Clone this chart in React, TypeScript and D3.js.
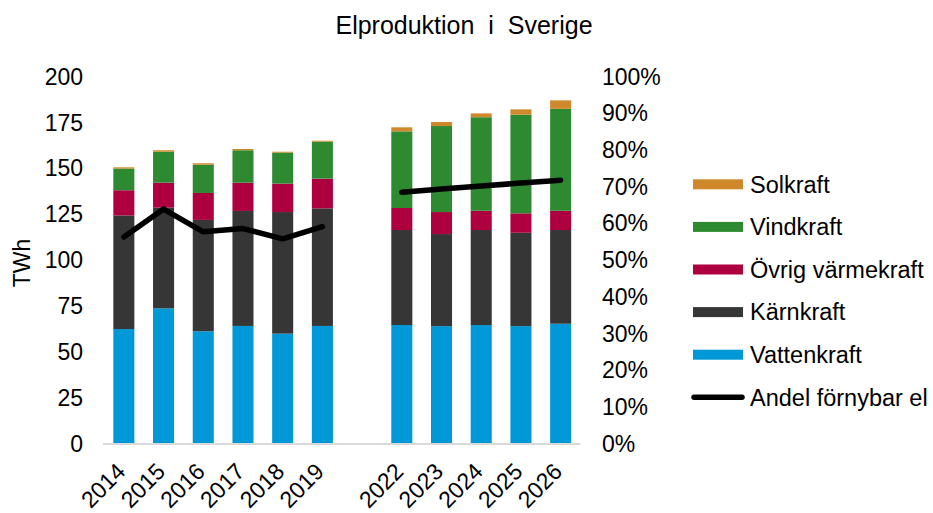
import React from "react";
import * as d3 from "d3";

const categories = ["2014", "2015", "2016", "2017", "2018", "2019", "", "2022", "2023", "2024", "2025", "2026"];
const vattenkraft = [62.4, 73.7, 61.2, 64.1, 59.9, 64.1, null, 64.6, 64.0, 64.6, 64.0, 65.3];
const karnkraft = [62.0, 54.9, 60.7, 62.7, 66.3, 64.1, null, 51.8, 50.2, 51.8, 50.9, 51.1];
const ovrigVarmekraft = [13.7, 13.6, 14.7, 15.4, 15.5, 16.2, null, 12.0, 12.0, 10.5, 10.6, 10.5];
const vindkraft = [11.8, 16.9, 15.4, 17.7, 16.9, 20.2, null, 41.8, 46.9, 51.0, 53.8, 55.6];
const solkraft = [0.7, 0.8, 0.8, 0.7, 0.5, 0.5, null, 2.2, 2.2, 2.1, 2.9, 4.6];
const andelFornybar = [0.563, 0.639, 0.577, 0.586, 0.558, 0.591, null, 0.685, 0.694, 0.702, 0.710, 0.718];

const leftTicks = [0, 25, 50, 75, 100, 125, 150, 175, 200];
const rightTicks = [0, 0.1, 0.2, 0.3, 0.4, 0.5, 0.6, 0.7, 0.8, 0.9, 1.0];

const seriesNames = ["Vattenkraft", "Kärnkraft", "Övrig värmekraft", "Vindkraft", "Solkraft"];
const seriesValues = [vattenkraft, karnkraft, ovrigVarmekraft, vindkraft, solkraft];
const seriesColors = ["#0098D6", "#363636", "#AE003F", "#2E8A31", "#D0892A"];
const legendOrder = ["Solkraft", "Vindkraft", "Övrig värmekraft", "Kärnkraft", "Vattenkraft"];
const lineName = "Andel förnybar el";

const FONT = "'Liberation Sans', Arial, sans-serif";

export default function App() {
  const W = 933, H = 513;
  const x = d3.scaleBand<number>()
    .domain(categories.map((_, i) => i))
    .range([104, 580.5])
    .paddingInner(0.47)
    .paddingOuter(0.235);
  const y = d3.scaleLinear().domain([0, 200]).range([443.5, 76.7]);
  const yr = d3.scaleLinear().domain([0, 1]).range([443.5, 76.7]);

  const rows = categories.map((c, i) => {
    const r: any = { i };
    seriesNames.forEach((n, k) => { r[n] = seriesValues[k][i] ?? 0; });
    return r;
  });
  const stacked = d3.stack<any>().keys(seriesNames)(rows);

  const line = d3.line<number | null>()
    .defined(d => d != null)
    .x((_, i) => (x(i) as number) + x.bandwidth() / 2)
    .y(d => yr(d as number));

  const legendY0 = 184.3;
  const legendStep = 42.6;

  return (
    <svg width={W} height={H} style={{ position: "absolute", left: 0, top: 0, background: "#fff" }} fontFamily={FONT}>
      <text x={464} y={34} textAnchor="middle" fontSize={25} fill="#000" style={{ whiteSpace: "pre" }}>
        {"Elproduktion  i  Sverige"}
      </text>

      {stacked.map((s, k) => (
        <g key={s.key} fill={seriesColors[k]}>
          {s.map((d, i) => categories[i] === "" ? null : (
            <rect key={i} x={x(i)} width={x.bandwidth()} y={y(d[1])} height={Math.max(0, y(d[0]) - y(d[1]))} />
          ))}
        </g>
      ))}

      <line x1={103} x2={580.5} y1={444} y2={444} stroke="#d9d9d9" strokeWidth={2} />

      <path d={line(andelFornybar) || ""} fill="none" stroke="#000" strokeWidth={5.5} strokeLinejoin="round" strokeLinecap="round" />

      {leftTicks.map(t => (
        <text key={t} x={83} y={y(t)} dy="0.35em" textAnchor="end" fontSize={23} fill="#000">{t}</text>
      ))}
      {rightTicks.map(t => (
        <text key={t} x={602} y={yr(t)} dy="0.35em" textAnchor="start" fontSize={23} fill="#000">{d3.format(".0%")(t)}</text>
      ))}
      <text transform={`translate(30,263) rotate(-90)`} textAnchor="middle" fontSize={23} fill="#000">TWh</text>

      {categories.map((c, i) => c === "" ? null : (
        <text key={i}
          transform={`translate(${(x(i) as number) + x.bandwidth() / 2 + 3},${473}) rotate(-45)`}
          textAnchor="end" fontSize={23} fill="#000">{c}</text>
      ))}

      {legendOrder.map((n, j) => {
        const k = seriesNames.indexOf(n);
        const cy = legendY0 + j * legendStep;
        return (
          <g key={n}>
            <rect x={693} y={cy - 5} width={50} height={10} fill={seriesColors[k]} />
            <text x={750} y={cy} dy="0.35em" fontSize={23.5} fill="#000">{n}</text>
          </g>
        );
      })}
      <line x1={694} x2={742} y1={legendY0 + 5 * legendStep} y2={legendY0 + 5 * legendStep} stroke="#000" strokeWidth={5.5} strokeLinecap="round" />
      <text x={750} y={legendY0 + 5 * legendStep} dy="0.35em" fontSize={23.5} fill="#000">{lineName}</text>
    </svg>
  );
}
